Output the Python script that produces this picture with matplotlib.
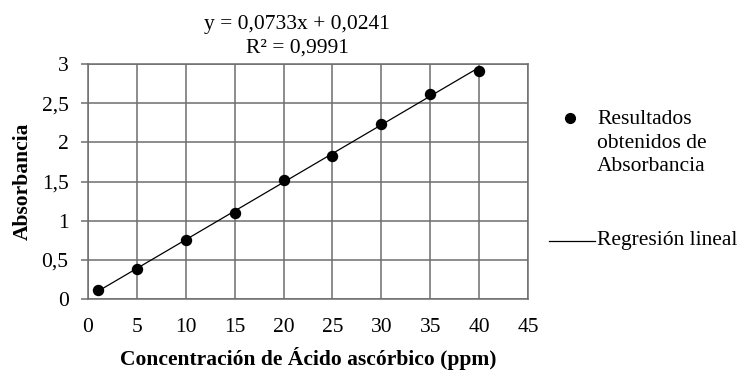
import numpy as np
import matplotlib.pyplot as plt
from matplotlib.lines import Line2D

plt.rcParams['font.family'] = ['Liberation Serif', 'DejaVu Serif']

# concentraciones (ppm) y absorbancias medidas
concentracion = [1, 5, 10, 15, 20, 25, 30, 35, 40]
absorbancia = [0.115, 0.38, 0.753, 1.10, 1.52, 1.83, 2.23, 2.62, 2.91]

# coeficientes de la regresion lineal
pendiente = 0.0733
intercepto = 0.0241
r2 = 0.9991

x_ticks = [0, 5, 10, 15, 20, 25, 30, 35, 40, 45]
y_ticks = [0, 0.5, 1, 1.5, 2, 2.5, 3]


def coma(v):
    s = f"{v:g}"
    return s.replace(".", ",")


grid_color = "#6e6e6e"
fs = 15.5

fig = plt.figure(figsize=(7.47, 3.72), dpi=100)
ax = fig.add_axes([88 / 747, 73 / 372, 440 / 747, 235 / 372])

ax.set_xlim(0, 45)
ax.set_ylim(0, 3)
ax.set_xticks(x_ticks)
ax.set_yticks(y_ticks)
ax.set_xticklabels([coma(v) for v in x_ticks], fontsize=fs)
ax.set_yticklabels([coma(v) for v in y_ticks], fontsize=fs)
ax.grid(True, color=grid_color, linewidth=1.1)
ax.set_axisbelow(True)
for s in ax.spines.values():
    s.set_color(grid_color)
    s.set_linewidth(1.1)
ax.tick_params(axis='x', length=0, pad=14)
ax.tick_params(axis='y', length=5, color=grid_color, width=1.1, pad=9)

# recta de regresion
xr = np.array([concentracion[0], concentracion[-1]])
ax.plot(xr, pendiente * xr + intercepto, color='black', linewidth=0.9, zorder=3)
ax.plot(concentracion, absorbancia, 'o', color='black', markersize=7.2, zorder=4)

ax.set_xlabel("Concentración de Ácido ascórbico (ppm)", fontsize=fs,
              fontweight='bold', labelpad=7)
ax.set_ylabel("Absorbancia", fontsize=fs, fontweight='bold', labelpad=6)

ecuacion = f"y = {coma(pendiente)}x + {coma(intercepto)}\nR² = {coma(r2)}"
fig.text(297 / 747, 1 - 36.5 / 372, ecuacion, ha='center', va='center',
         fontsize=fs, linespacing=1.32)

# leyenda
fig.add_artist(Line2D([570 / 747], [1 - 118 / 372], marker='o', color='black',
                      markersize=7, linestyle='none'))
fig.text(597 / 747, 1 - 143 / 372, "Resultados\nobtenidos de\nAbsorbancia",
         ha='left', va='center', fontsize=fs, linespacing=1.34)
fig.add_artist(Line2D([549 / 747, 595 / 747], [1 - 241 / 372, 1 - 241 / 372],
                      color='black', linewidth=0.9))
fig.text(597 / 747, 1 - 241 / 372, "Regresión lineal", ha='left', va='center',
         fontsize=fs)

fig.savefig("out.png", dpi=100)
